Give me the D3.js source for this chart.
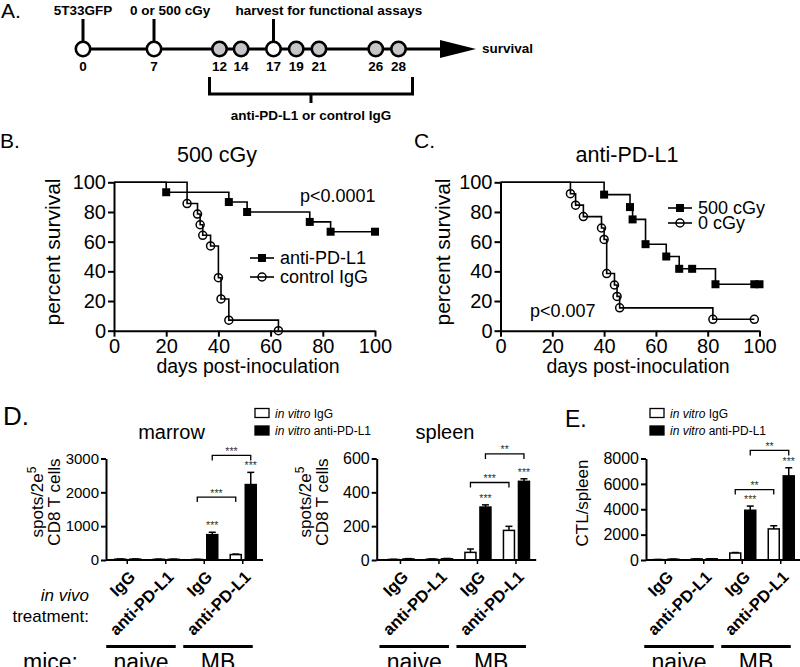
<!DOCTYPE html>
<html><head><meta charset="utf-8">
<script src="https://cdn.jsdelivr.net/npm/d3@7"></script>
<style>body{margin:0;background:#fff} svg{display:block}</style>
</head><body><svg id="c" width="800" height="667"></svg>
<script>
// ---------------- DATA ----------------
const timelineDays = [0, 7, 12, 14, 17, 19, 21, 26, 28];
const treatmentDays = [12, 14, 19, 21, 26, 28];
const eventDays = [0, 7, 17];
const eventLabels = ["5T33GFP", "0 or 500 cGy", "harvest for functional assays"];

const kmTicks = [0, 20, 40, 60, 80, 100];
// Panel B (500 cGy)
const bAntiDays = [20, 44, 51, 75, 83, 100];
const bAntiSurv = [93.3, 86.7, 80, 73.3, 66.7, 66.7];
const bIgGDays = [28, 32, 33, 34, 37, 40, 41, 44, 63];
const bIgGSurv = [85.7, 78.6, 71.4, 64.3, 57.1, 35.7, 21.4, 7.1, 0];
// Panel C (anti-PD-L1)
const c500Days = [40, 50, 51, 56, 64, 69, 74, 83, 98, 100];
const c500Surv = [91.7, 83.3, 75, 58.3, 50, 41.7, 41.7, 31.3, 31.3, 31.3];
const c0Days = [27, 29, 32, 39, 40, 41, 44, 45, 46, 82, 98];
const c0Surv = [92.3, 84.6, 76.9, 69.2, 61.5, 38.5, 30.8, 23.1, 15.4, 7.7, 7.7];

// Bar panels
const barGroups = ["naive IgG", "naive anti-PD-L1", "MB IgG", "MB anti-PD-L1"];
const groupTickLabels = ["IgG", "anti-PD-L1", "IgG", "anti-PD-L1"];
const mouseGroups = ["naive", "MB"];
const seriesNames = ["in vitro IgG", "in vitro anti-PD-L1"];

const marrowTicks = [0, 1000, 2000, 3000];
const marrowIgG = [25, 20, 15, 160];
const marrowIgGErr = [5, 5, 5, 15];
const marrowAnti = [25, 20, 750, 2230];
const marrowAntiErr = [5, 5, 70, 360];
const marrowAntiStars = ["", "", "***", "***"];
const marrowBrackets = [
  {from: 2, to: 3, series: 0, level: 1860, label: "***"},
  {from: 2, to: 3, series: 1, level: 3090, label: "***"}
];

const spleenTicks = [0, 200, 400, 600];
const spleenIgG = [3, 5, 45, 175];
const spleenIgGErr = [1, 1, 20, 24];
const spleenAnti = [6, 7, 313, 465];
const spleenAntiErr = [2, 2, 13, 15];
const spleenAntiStars = ["", "", "***", "***"];
const spleenBrackets = [
  {from: 2, to: 3, series: 0, level: 458, label: "***"},
  {from: 2, to: 3, series: 1, level: 627, label: "**"}
];

const ctlTicks = [0, 2000, 4000, 6000, 8000];
const ctlIgG = [30, 80, 550, 2450];
const ctlIgGErr = [10, 10, 40, 250];
const ctlAnti = [60, 90, 3920, 6630];
const ctlAntiErr = [10, 10, 330, 640];
const ctlAntiStars = ["", "", "***", "***"];
const ctlBrackets = [
  {from: 2, to: 3, series: 0, level: 5550, label: "**"},
  {from: 2, to: 3, series: 1, level: 8640, label: "**"}
];

// ---------------- DRAWING ----------------
const FONT = '"Liberation Sans", Arial, Helvetica, sans-serif';
const svg = d3.select("#c").attr("font-family", FONT);

function txt(g, x, y, str, o = {}) {
  const t = g.append("text").attr("x", x).attr("y", y).text(str)
    .attr("font-size", o.size || 14)
    .attr("text-anchor", o.anchor || "start")
    .attr("font-weight", o.weight || "normal")
    .attr("fill", o.fill || "#000");
  if (o.italic) t.attr("font-style", "italic");
  if (o.rotate) t.attr("transform", `rotate(${o.rotate},${x},${y})`);
  return t;
}
function ln(g, x1, y1, x2, y2, w) {
  return g.append("line").attr("x1", x1).attr("y1", y1).attr("x2", x2).attr("y2", y2)
    .attr("stroke", "#000").attr("stroke-width", w || 2);
}

// ---- Panel A : timeline ----
const A = svg.append("g");
const tl = d3.scaleLinear().domain([0, 7, 12, 17, 28]).range([83, 154, 219.5, 273.5, 398.5]);
const tlY = 49;
txt(A, 1, 18, "A.", {size: 21});
ln(A, tl(0), tlY, 442, tlY, 3);
A.append("path").attr("d", `M440,${tlY - 9}L476,${tlY}L440,${tlY + 9}Z`).attr("fill", "#000");
txt(A, 482, 53, "survival", {size: 13.5, weight: "bold"});
const eventLabelOffset = [0, -24, -38];
const eventLabelAnchor = ["middle", "start", "start"];
eventDays.forEach((d, i) => {
  ln(A, tl(d), 19, tl(d), tlY, 3);
  txt(A, tl(d) + eventLabelOffset[i], 15, eventLabels[i], {size: 13.5, weight: "bold", anchor: eventLabelAnchor[i]});
});
timelineDays.forEach(d => {
  A.append("circle").attr("cx", tl(d)).attr("cy", tlY).attr("r", 7.2)
    .attr("fill", treatmentDays.includes(d) ? "#c6c6c6" : "#fff")
    .attr("stroke", "#000").attr("stroke-width", 2.6);
  txt(A, tl(d), 71, String(d), {size: 13.5, weight: "bold", anchor: "middle"});
});
{
  const bx1 = tl(12) - 10, bx2 = tl(28) + 14, by = 94, mid = (bx1 + bx2) / 2;
  A.append("path").attr("d", `M${bx1},77V${by}H${bx2}V77M${mid},${by}V103`)
    .attr("fill", "none").attr("stroke", "#000").attr("stroke-width", 3);
  txt(A, mid, 120, "anti-PD-L1 or control IgG", {size: 13.5, weight: "bold", anchor: "middle"});
}

// ---- Panels B, C : Kaplan–Meier ----
const KM_Y0 = 330.7, KM_Y1 = 182.3;
function marker(g, type, cx, cy) {
  if (type === "square") {
    g.append("rect").attr("x", cx - 4).attr("y", cy - 4).attr("width", 8).attr("height", 8).attr("fill", "#000");
  } else {
    g.append("circle").attr("cx", cx).attr("cy", cy).attr("r", 4)
      .attr("fill", "none").attr("stroke", "#000").attr("stroke-width", 1.5);
  }
}
function kmPanel(cfg) {
  const g = svg.append("g");
  const x = d3.scaleLinear().domain([0, 100]).range([cfg.x0, cfg.x1]);
  const y = d3.scaleLinear().domain([0, 100]).range([KM_Y0, KM_Y1]);
  const line = d3.line().x(d => x(d[0])).y(d => y(d[1])).curve(d3.curveStepAfter);
  cfg.series.forEach(s => {
    const pts = [[0, 100]].concat(s.days.map((d, i) => [d, s.surv[i]]));
    g.append("path").attr("d", line(pts)).attr("fill", "none").attr("stroke", "#000").attr("stroke-width", 1.6);
    pts.slice(1).forEach(p => marker(g, s.marker, x(p[0]), y(p[1])));
  });
  const ya = g.append("g").attr("transform", `translate(${cfg.x0},0)`)
    .call(d3.axisLeft(y).tickValues(kmTicks).tickSize(6).tickPadding(2).tickSizeOuter(0));
  const xa = g.append("g").attr("transform", `translate(0,${KM_Y0})`)
    .call(d3.axisBottom(x).tickValues(kmTicks).tickSize(6).tickPadding(2).tickSizeOuter(0));
  [ya, xa].forEach(a => {
    a.attr("font-size", 20).attr("font-family", FONT);
    a.selectAll("line,path").attr("stroke-width", 2).attr("stroke", "#000");
    a.selectAll("text").attr("fill", "#000");
  });
  txt(g, cfg.letterX, 148, cfg.letter, {size: 21});
  txt(g, cfg.titleX, 162, cfg.title, {size: 21.5, anchor: "middle"});
  txt(g, cfg.xTitleX, 373, "days post-inoculation", {size: 19.5, anchor: "middle"});
  txt(g, cfg.yTitleX, 252, "percent survival", {size: 21, anchor: "middle", rotate: -90});
  txt(g, cfg.pX, cfg.pY, cfg.p, {size: 18});
  cfg.series.forEach((s, i) => {
    const ly = cfg.legY[i];
    ln(g, cfg.legX, ly, cfg.legX + 24, ly, 1.6);
    marker(g, s.marker, cfg.legX + 12, ly);
    txt(g, cfg.legX + 30, ly + 6, s.name, {size: 18});
  });
}
kmPanel({
  x0: 114, x1: 375, letter: "B.", letterX: 0, title: "500 cGy", titleX: 217,
  xTitleX: 248, yTitleX: 60, p: "p<0.0001", pX: 300, pY: 202,
  legX: 250, legY: [258, 277],
  series: [
    {name: "anti-PD-L1", days: bAntiDays, surv: bAntiSurv, marker: "square"},
    {name: "control IgG", days: bIgGDays, surv: bIgGSurv, marker: "circle"}
  ]
});
kmPanel({
  x0: 500.5, x1: 759.5, letter: "C.", letterX: 414, title: "anti-PD-L1", titleX: 627,
  xTitleX: 638, yTitleX: 450, p: "p<0.007", pX: 530, pY: 317,
  legX: 668, legY: [208, 223],
  series: [
    {name: "500 cGy", days: c500Days, surv: c500Surv, marker: "square"},
    {name: "0 cGy", days: c0Days, surv: c0Surv, marker: "circle"}
  ]
});

// ---- Panels D, E : bars ----
const BAR_Y0 = 560, BAR_Y1 = 458.5;
function barPanel(cfg) {
  const g = svg.append("g");
  const y = d3.scaleLinear().domain([0, cfg.yMax]).range([BAR_Y0, BAR_Y1]);
  const bandStart = cfg.ax + cfg.bandOffset;
  const xo = d3.scaleBand().domain(barGroups).range([bandStart, bandStart + 4 * 38.5]);
  const xi = d3.scaleBand().domain(seriesNames).range([6.75, 32.75]).paddingInner(4 / 15);
  const vals = [cfg.igg, cfg.anti], errs = [cfg.iggErr, cfg.antiErr];
  const barCx = (gi, si) => xo(barGroups[gi]) + xi(seriesNames[si]) + xi.bandwidth() / 2;
  seriesNames.forEach((s, si) => {
    barGroups.forEach((grp, gi) => {
      const v = vals[si][gi], e = errs[si][gi], cx = barCx(gi, si);
      ln(g, cx, y(v), cx, y(v + e), 1.5);
      ln(g, cx - 3.5, y(v + e), cx + 3.5, y(v + e), 1.5);
      g.append("rect").attr("x", xo(grp) + xi(s)).attr("y", y(v))
        .attr("width", xi.bandwidth()).attr("height", BAR_Y0 - y(v))
        .attr("fill", si ? "#000" : "#fff").attr("stroke", "#000").attr("stroke-width", 1.5);
    });
  });
  cfg.stars.forEach((st, gi) => {
    if (!st) return;
    const v = cfg.anti[gi] + cfg.antiErr[gi];
    txt(g, barCx(gi, 1), y(v) - 3, st, {size: 10.5, anchor: "middle", fill: "#333"});
  });
  cfg.brackets.forEach(b => {
    const x1 = barCx(b.from, b.series), x2 = barCx(b.to, b.series), by = y(b.level);
    g.append("path").attr("d", `M${x1},${by + 5}V${by}H${x2}V${by + 5}`)
      .attr("fill", "none").attr("stroke", "#000").attr("stroke-width", 1.3);
    txt(g, (x1 + x2) / 2, by - 0.5, b.label, {size: 10.5, anchor: "middle", fill: "#333"});
  });
  // axes
  const ya = g.append("g").attr("transform", `translate(${cfg.ax},0)`)
    .call(d3.axisLeft(y).tickValues(cfg.ticks).tickSize(5).tickPadding(2).tickSizeOuter(0).tickFormat(d3.format("d")));
  ya.attr("font-size", cfg.tickSize).attr("font-family", FONT);
  ya.selectAll("line,path").attr("stroke-width", 2).attr("stroke", "#000");
  ya.selectAll("text").attr("fill", "#000");
  const xa = g.append("g").attr("transform", `translate(0,${BAR_Y0})`)
    .call(d3.axisBottom(xo).tickSize(4).tickFormat(""));
  xa.select(".domain").remove();
  xa.selectAll("line").attr("stroke-width", 1.5).attr("stroke", "#000");
  ln(g, cfg.ax, BAR_Y0, bandStart + 4 * 38.5 + 1, BAR_Y0, 2);
  barGroups.forEach((grp, gi) => {
    const c = xo(grp) + xo.bandwidth() / 2;
    txt(g, c + 9, 578, groupTickLabels[gi], {size: 16.5, weight: "bold", anchor: "end", rotate: -45});
  });
  mouseGroups.forEach((m, mi) => {
    const c0 = xo(barGroups[mi * 2]) + xo.bandwidth() / 2;
    const c1 = xo(barGroups[mi * 2 + 1]) + xo.bandwidth() / 2;
    ln(g, c0 - 21, 646.5, c1 + 10, 646.5, 3);
    txt(g, (c0 - 21 + c1 + 10) / 2, 670, m, {size: 23, anchor: "middle"});
  });
  if (cfg.title) txt(g, cfg.titleX, 439, cfg.title, {size: 20, anchor: "middle"});
  return g;
}
function yTitle2(g, x1, x2, cy) {
  const t = txt(g, x1, cy, "spots/2e", {size: 17, anchor: "middle", rotate: -90});
  t.append("tspan").attr("font-size", 12).attr("dy", -7).text("5");
  txt(g, x2, cy, "CD8 T cells", {size: 17, anchor: "middle", rotate: -90});
}
function legend(g, x, y0) {
  seriesNames.forEach((s, i) => {
    const yy = y0 + i * 17.5;
    g.append("rect").attr("x", x).attr("y", yy).attr("width", 14).attr("height", 9)
      .attr("fill", i ? "#000" : "#fff").attr("stroke", "#000").attr("stroke-width", 1.3);
    const t = txt(g, x + 20, yy + 9, "", {size: 12});
    t.append("tspan").attr("font-style", "italic").text("in vitro");
    t.append("tspan").text(" " + s.replace("in vitro ", ""));
  });
}

const D1 = barPanel({ax: 106, bandOffset: 2, yMax: 3000, ticks: marrowTicks, tickSize: 15,
  igg: marrowIgG, iggErr: marrowIgGErr, anti: marrowAnti, antiErr: marrowAntiErr,
  stars: marrowAntiStars, brackets: marrowBrackets, title: "marrow", titleX: 171.5});
yTitle2(D1, 43, 60, 502);
txt(D1, 3, 425, "D.", {size: 26});
txt(D1, 89, 601, "in vivo", {size: 17, anchor: "end", italic: true});
txt(D1, 89, 622, "treatment:", {size: 17, anchor: "end"});
txt(D1, 78, 670, "mice:", {size: 23, anchor: "end"});
legend(D1, 255, 408.5);

const D2 = barPanel({ax: 376.7, bandOffset: 4.5, yMax: 600, ticks: spleenTicks, tickSize: 16,
  igg: spleenIgG, iggErr: spleenIgGErr, anti: spleenAnti, antiErr: spleenAntiErr,
  stars: spleenAntiStars, brackets: spleenBrackets, title: "spleen", titleX: 445});
yTitle2(D2, 311, 328, 502);

const E = barPanel({ax: 646, bandOffset: 0, yMax: 8000, ticks: ctlTicks, tickSize: 16,
  igg: ctlIgG, iggErr: ctlIgGErr, anti: ctlAnti, antiErr: ctlAntiErr,
  stars: ctlAntiStars, brackets: ctlBrackets});
txt(E, 588, 503, "CTL/spleen", {size: 17, anchor: "middle", rotate: -90});
txt(E, 565, 427, "E.", {size: 23});
legend(E, 650, 408.5);
</script>
</body></html>
